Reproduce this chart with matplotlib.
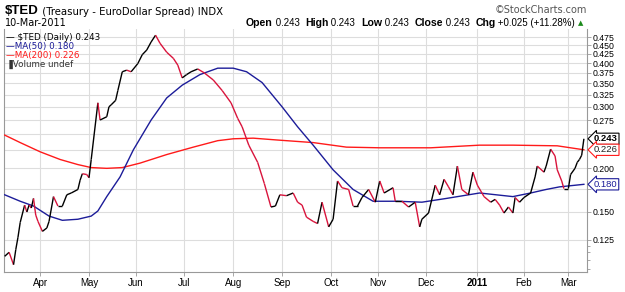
import numpy as np
import pandas as pd
import matplotlib
matplotlib.use('Agg')
import matplotlib.pyplot as plt
from matplotlib.collections import LineCollection
from matplotlib.transforms import blended_transform_factory

# trading days from 10-Mar-2010 to 10-Mar-2011
days = pd.bdate_range('2010-03-10', '2011-03-10')

# $TED daily close (trading-day number, value)
ted_day = [0, 2, 4, 5, 6, 7, 9, 10, 11, 12, 13, 14, 15, 17, 19, 20, 22, 24, 26, 28,
           30, 33, 34, 35, 37, 38, 39, 42, 43, 46, 47, 48, 50, 51, 53, 55, 57, 60, 62, 64,
           66, 68, 70, 73, 76, 78, 80, 82, 84, 87, 90, 94, 98, 102, 105, 107, 110, 114, 117, 120,
           122, 124, 127, 130, 132, 134, 136, 139, 141, 143, 146, 148, 150, 152, 155, 157, 159, 161, 164, 167,
           169, 171, 175, 176, 179, 182, 185, 187, 188, 191, 194, 196, 198, 200, 202, 204, 206, 209, 211, 213,
           216, 219, 221, 223, 225, 227, 229, 230, 232, 234, 237, 239, 240, 243, 244, 246, 248, 249, 251, 252,
           254, 255, 257, 258, 259, 260, 261]
ted_val = [0.112, 0.115, 0.106, 0.117, 0.127, 0.140, 0.157, 0.150, 0.157, 0.154, 0.164, 0.147, 0.141, 0.132, 0.135, 0.141, 0.166, 0.156, 0.156, 0.168,
           0.170, 0.174, 0.185, 0.193, 0.192, 0.188, 0.212, 0.308, 0.275, 0.281, 0.300, 0.304, 0.313, 0.334, 0.378, 0.382, 0.378, 0.399, 0.423, 0.436,
           0.460, 0.481, 0.456, 0.430, 0.413, 0.395, 0.363, 0.371, 0.378, 0.385, 0.375, 0.358, 0.334, 0.308, 0.278, 0.263, 0.233, 0.208, 0.181, 0.155,
           0.156, 0.168, 0.167, 0.170, 0.160, 0.157, 0.145, 0.141, 0.139, 0.160, 0.136, 0.143, 0.184, 0.176, 0.174, 0.156, 0.156, 0.165, 0.174, 0.160,
           0.184, 0.170, 0.176, 0.161, 0.161, 0.155, 0.160, 0.136, 0.143, 0.149, 0.179, 0.168, 0.186, 0.177, 0.168, 0.203, 0.174, 0.168, 0.195, 0.179,
           0.166, 0.160, 0.163, 0.157, 0.149, 0.155, 0.149, 0.165, 0.160, 0.165, 0.170, 0.189, 0.203, 0.195, 0.203, 0.227, 0.217, 0.198, 0.184, 0.175,
           0.175, 0.192, 0.200, 0.208, 0.212, 0.218, 0.243]

ma50_day = [0, 7, 13, 20, 26, 33, 39, 42, 46, 52, 58, 66, 73, 80, 88, 96, 103, 109, 116, 125,
            132, 139, 148, 157, 166, 177, 188, 199, 214, 229, 237, 244, 250, 261]
ma50_val = [0.168, 0.161, 0.156, 0.146, 0.142, 0.143, 0.146, 0.151, 0.166, 0.189, 0.226, 0.275, 0.318, 0.346, 0.371, 0.387, 0.387, 0.378, 0.352, 0.300,
            0.263, 0.233, 0.198, 0.174, 0.161, 0.161, 0.160, 0.164, 0.170, 0.166, 0.170, 0.174, 0.177, 0.180]

ma200_day = [0, 7, 16, 25, 33, 39, 46, 53, 61, 73, 85, 96, 103, 112, 123, 139, 154, 169, 192, 214,
             229, 249, 261]
ma200_val = [0.249, 0.237, 0.223, 0.212, 0.205, 0.201, 0.200, 0.201, 0.207, 0.219, 0.230, 0.240, 0.243, 0.244, 0.241, 0.237, 0.230, 0.229, 0.229, 0.233,
             0.233, 0.232, 0.226]

y_ticks = [0.125, 0.150, 0.175, 0.200, 0.225, 0.250, 0.275, 0.300, 0.325, 0.350, 0.375, 0.400, 0.425, 0.450, 0.475]
y_labels = ['0.125', '0.150', '', '0.200', '', '', '0.275', '0.300', '0.325', '0.350', '0.375', '0.400', '0.425', '0.450', '0.475']

month_names = ['Apr', 'May', 'Jun', 'Jul', 'Aug', 'Sep', 'Oct', 'Nov', 'Dec', '2011', 'Feb', 'Mar']

fig = plt.figure(figsize=(6.25, 2.92), dpi=100)
ax = fig.add_axes([4 / 625, 1 - 272 / 292, 583 / 625, 243 / 292])

ax.set_yscale('log')
ax.set_ylim(0.101, 0.501)
ax.set_xlim(-0.3, 262.4)

# month gridlines at the first trading day of each month
first = pd.Series(np.arange(len(days)), index=days).groupby([days.year, days.month]).first()
month_pos = first.values[1:]
ax.set_xticks(month_pos)
ax.set_xticklabels(month_names, fontsize=7, family='Liberation Sans')
for lab in ax.get_xticklabels():
    if lab.get_text() == '2011':
        lab.set_fontweight('bold')

ax.yaxis.tick_right()
ax.set_yticks(y_ticks)
ax.set_yticklabels(y_labels, fontsize=6.3, family='Liberation Sans')
ax.set_yticks([0.103, 0.109, 0.115, 0.120], minor=True)
ax.yaxis.set_minor_formatter(matplotlib.ticker.NullFormatter())
ax.tick_params(axis='both', which='both', length=3, width=0.6, color='#999999', pad=1)
ax.tick_params(axis='y', which='minor', length=2)
ax.grid(True, which='major', color='#dddddd', linewidth=0.8)
for s in ['left', 'right', 'bottom']:
    ax.spines[s].set_color('#999999')
    ax.spines[s].set_linewidth(0.8)
ax.spines['top'].set_visible(False)

# moving averages
ax.plot(ma200_day, ma200_val, color='#ff1a1a', linewidth=1.0, zorder=3)
ax.plot(ma50_day, ma50_val, color='#1c1c99', linewidth=1.0, zorder=3)

# price line: black when rising, crimson when falling
pts = np.column_stack([ted_day, ted_val])
segs = np.stack([pts[:-1], pts[1:]], axis=1)
cols = ['black' if b >= a else '#d9143c' for a, b in zip(ted_val[:-1], ted_val[1:])]
ax.add_collection(LineCollection(segs, colors=cols, linewidths=1.0, zorder=4))

# legend
leg = [('\u2014 $TED (Daily) %.3f' % ted_val[-1], 'black'),
       ('\u2014MA(50) %.3f' % ma50_val[-1], '#1c1c99'),
       ('\u2014MA(200) %.3f' % ma200_val[-1], '#ff1a1a'),
       ('\u2590Volume undef', '#333333')]
for k, (txt, c) in enumerate(leg):
    ax.text(0.004, 0.985 - k * 0.037, txt, transform=ax.transAxes, fontsize=6.3,
            color=c, va='top', ha='left', family='DejaVu Sans')

# value tags on the right axis
tr = blended_transform_factory(ax.transAxes, ax.transData)
tags = [(ted_val[-1], 'black', 'black', 'bold'),
        (ma200_val[-1], '#ff1a1a', '#222222', 'normal'),
        (ma50_val[-1], '#1c1c99', '#1c1c99', 'normal')]
for v, ec, tc, fw in tags:
    ax.text(1.012, v, '%.3f' % v, transform=tr, fontsize=6.8, color=tc, fontweight=fw,
            family='Liberation Sans', va='center', ha='left', zorder=10, clip_on=False,
            bbox=dict(boxstyle='larrow,pad=0.12', fc='white', ec=ec, lw=0.8))

# header
title = fig.text(5 / 625, 1 - 11 / 292, '$TED', fontsize=9.5, fontweight='bold', va='center',
                 family='Liberation Sans')
ax.annotate(' (Treasury - EuroDollar Spread) INDX', xy=(1, 0.45), xycoords=title, va='center',
            ha='left', fontsize=7.3, family='DejaVu Sans', annotation_clip=False)
fig.text(5 / 625, 1 - 23 / 292, '10-Mar-2011', fontsize=7, va='center', family='DejaVu Sans')
fig.text(587 / 625, 1 - 10 / 292, '\u00a9StockCharts.com', fontsize=7, va='center', ha='right',
         color='#555555', family='DejaVu Sans')

parts = [('Open', 'bold'), (' 0.243  ', 'normal'), ('High', 'bold'), (' 0.243  ', 'normal'),
         ('Low', 'bold'), (' 0.243  ', 'normal'), ('Close', 'bold'), (' 0.243  ', 'normal'),
         ('Chg', 'bold'), (' +0.025 (+11.28%) ', 'normal')]
prev = None
for i, (txt, fw) in enumerate(parts):
    size = 7.6 if fw == 'bold' else 7.0
    if i == 0:
        prev = fig.text(246 / 625, 1 - 23 / 292, txt, fontsize=size, fontweight=fw, va='center',
                        family='Liberation Sans')
    else:
        prev = ax.annotate(txt, xy=(1, 0.5), xycoords=prev, va='center', ha='left',
                           fontsize=size, fontweight=fw, family='Liberation Sans',
                           annotation_clip=False)
ax.annotate('\u25b2', xy=(1, 0.5), xycoords=prev, va='center', ha='left', fontsize=5,
            color='#1a8a1a', annotation_clip=False)

fig.savefig('out.png', dpi=100)
